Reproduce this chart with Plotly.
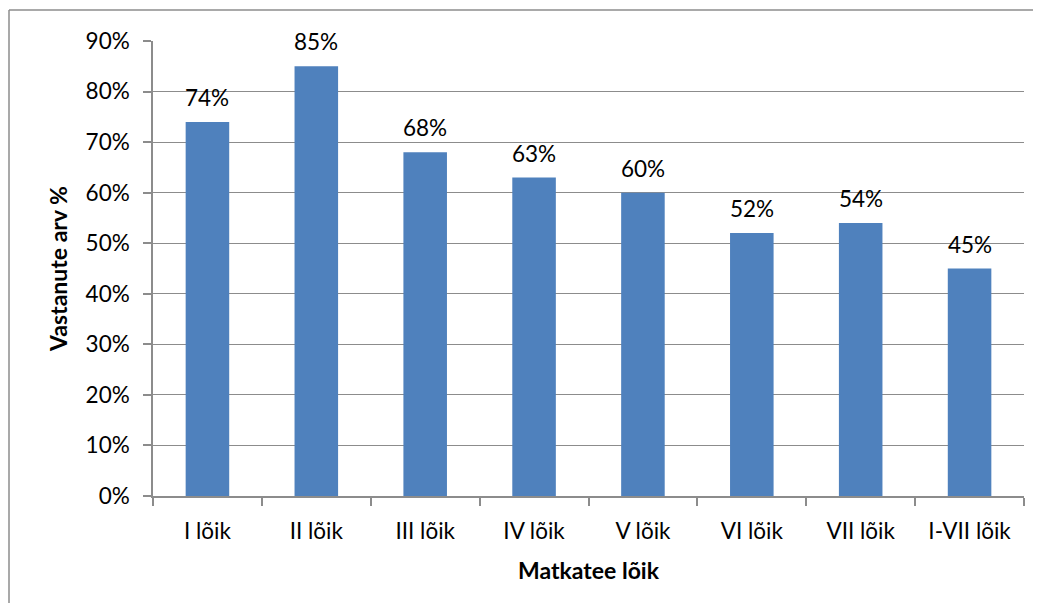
import plotly.graph_objects as go

categories = ["I lõik", "II lõik", "III lõik", "IV lõik", "V lõik", "VI lõik", "VII lõik", "I-VII lõik"]
values = [0.74, 0.85, 0.68, 0.63, 0.60, 0.52, 0.54, 0.45]
labels = ["74%", "85%", "68%", "63%", "60%", "52%", "54%", "45%"]
y_ticks = [0, 0.1, 0.2, 0.3, 0.4, 0.5, 0.6, 0.7, 0.8, 0.9]
y_ticktext = ["0%", "10%", "20%", "30%", "40%", "50%", "60%", "70%", "80%", "90%"]

FONT = "Lato, Calibri, Carlito, sans-serif"
GRAY = "#8c8c8c"
FS = 22.5

W, H = 1025, 595
L, R, T, B = 145, 9, 33, 107
pw, ph = W - L - R, H - T - B

fig = go.Figure(go.Bar(
    x=categories, y=values,
    marker=dict(color="#4f81bd", line=dict(width=0)),
    hoverinfo="x+y",
))

annotations = [
    dict(x=c, y=v, text=t, showarrow=False, xref="x", yref="y",
         yanchor="bottom", yshift=9, font=dict(family=FONT, size=FS, color="black"))
    for c, v, t in zip(categories, values, labels)
]

fig.update_layout(
    width=W, height=H,
    margin=dict(l=L, r=R, t=T, b=B),
    paper_bgcolor="white", plot_bgcolor="white",
    bargap=0.6, showlegend=False,
    font=dict(family=FONT, size=FS, color="black"),
    annotations=annotations,
    shapes=[
        dict(type="line", xref="paper", yref="paper",
             x0=-(L - 1) / pw, x1=1 + (R + 5) / pw, y0=1 + (T - 2) / ph, y1=1 + (T - 2) / ph,
             line=dict(color=GRAY, width=1.5), layer="below"),
        dict(type="line", xref="paper", yref="paper",
             x0=-(L - 1) / pw, x1=-(L - 1) / pw, y0=-(B + 5) / ph, y1=1 + (T - 2) / ph,
             line=dict(color=GRAY, width=1.5), layer="below"),
    ],
)
fig.update_xaxes(
    type="category", showline=True, linecolor=GRAY, linewidth=1.5,
    ticks="outside", tickson="boundaries", ticklen=8, tickcolor=GRAY, tickwidth=1.5,
    tickfont=dict(family=FONT, size=FS), ticklabelstandoff=14,
    title=dict(text="<b>Matkatee lõik</b>", font=dict(family=FONT, size=FS + 0.5), standoff=20),
)
fig.update_yaxes(
    range=[0, 0.9], tickvals=y_ticks, ticktext=y_ticktext,
    showline=True, linecolor=GRAY, linewidth=1.5,
    showgrid=True, gridcolor=GRAY, gridwidth=1,
    ticks="outside", ticklen=8, tickcolor=GRAY, tickwidth=1.5,
    tickfont=dict(family=FONT, size=FS), ticklabelstandoff=9, zeroline=False,
    title=dict(text="<b>Vastanute arv %</b>", font=dict(family=FONT, size=FS + 0.5), standoff=12),
)

fig.write_html("out.html")
